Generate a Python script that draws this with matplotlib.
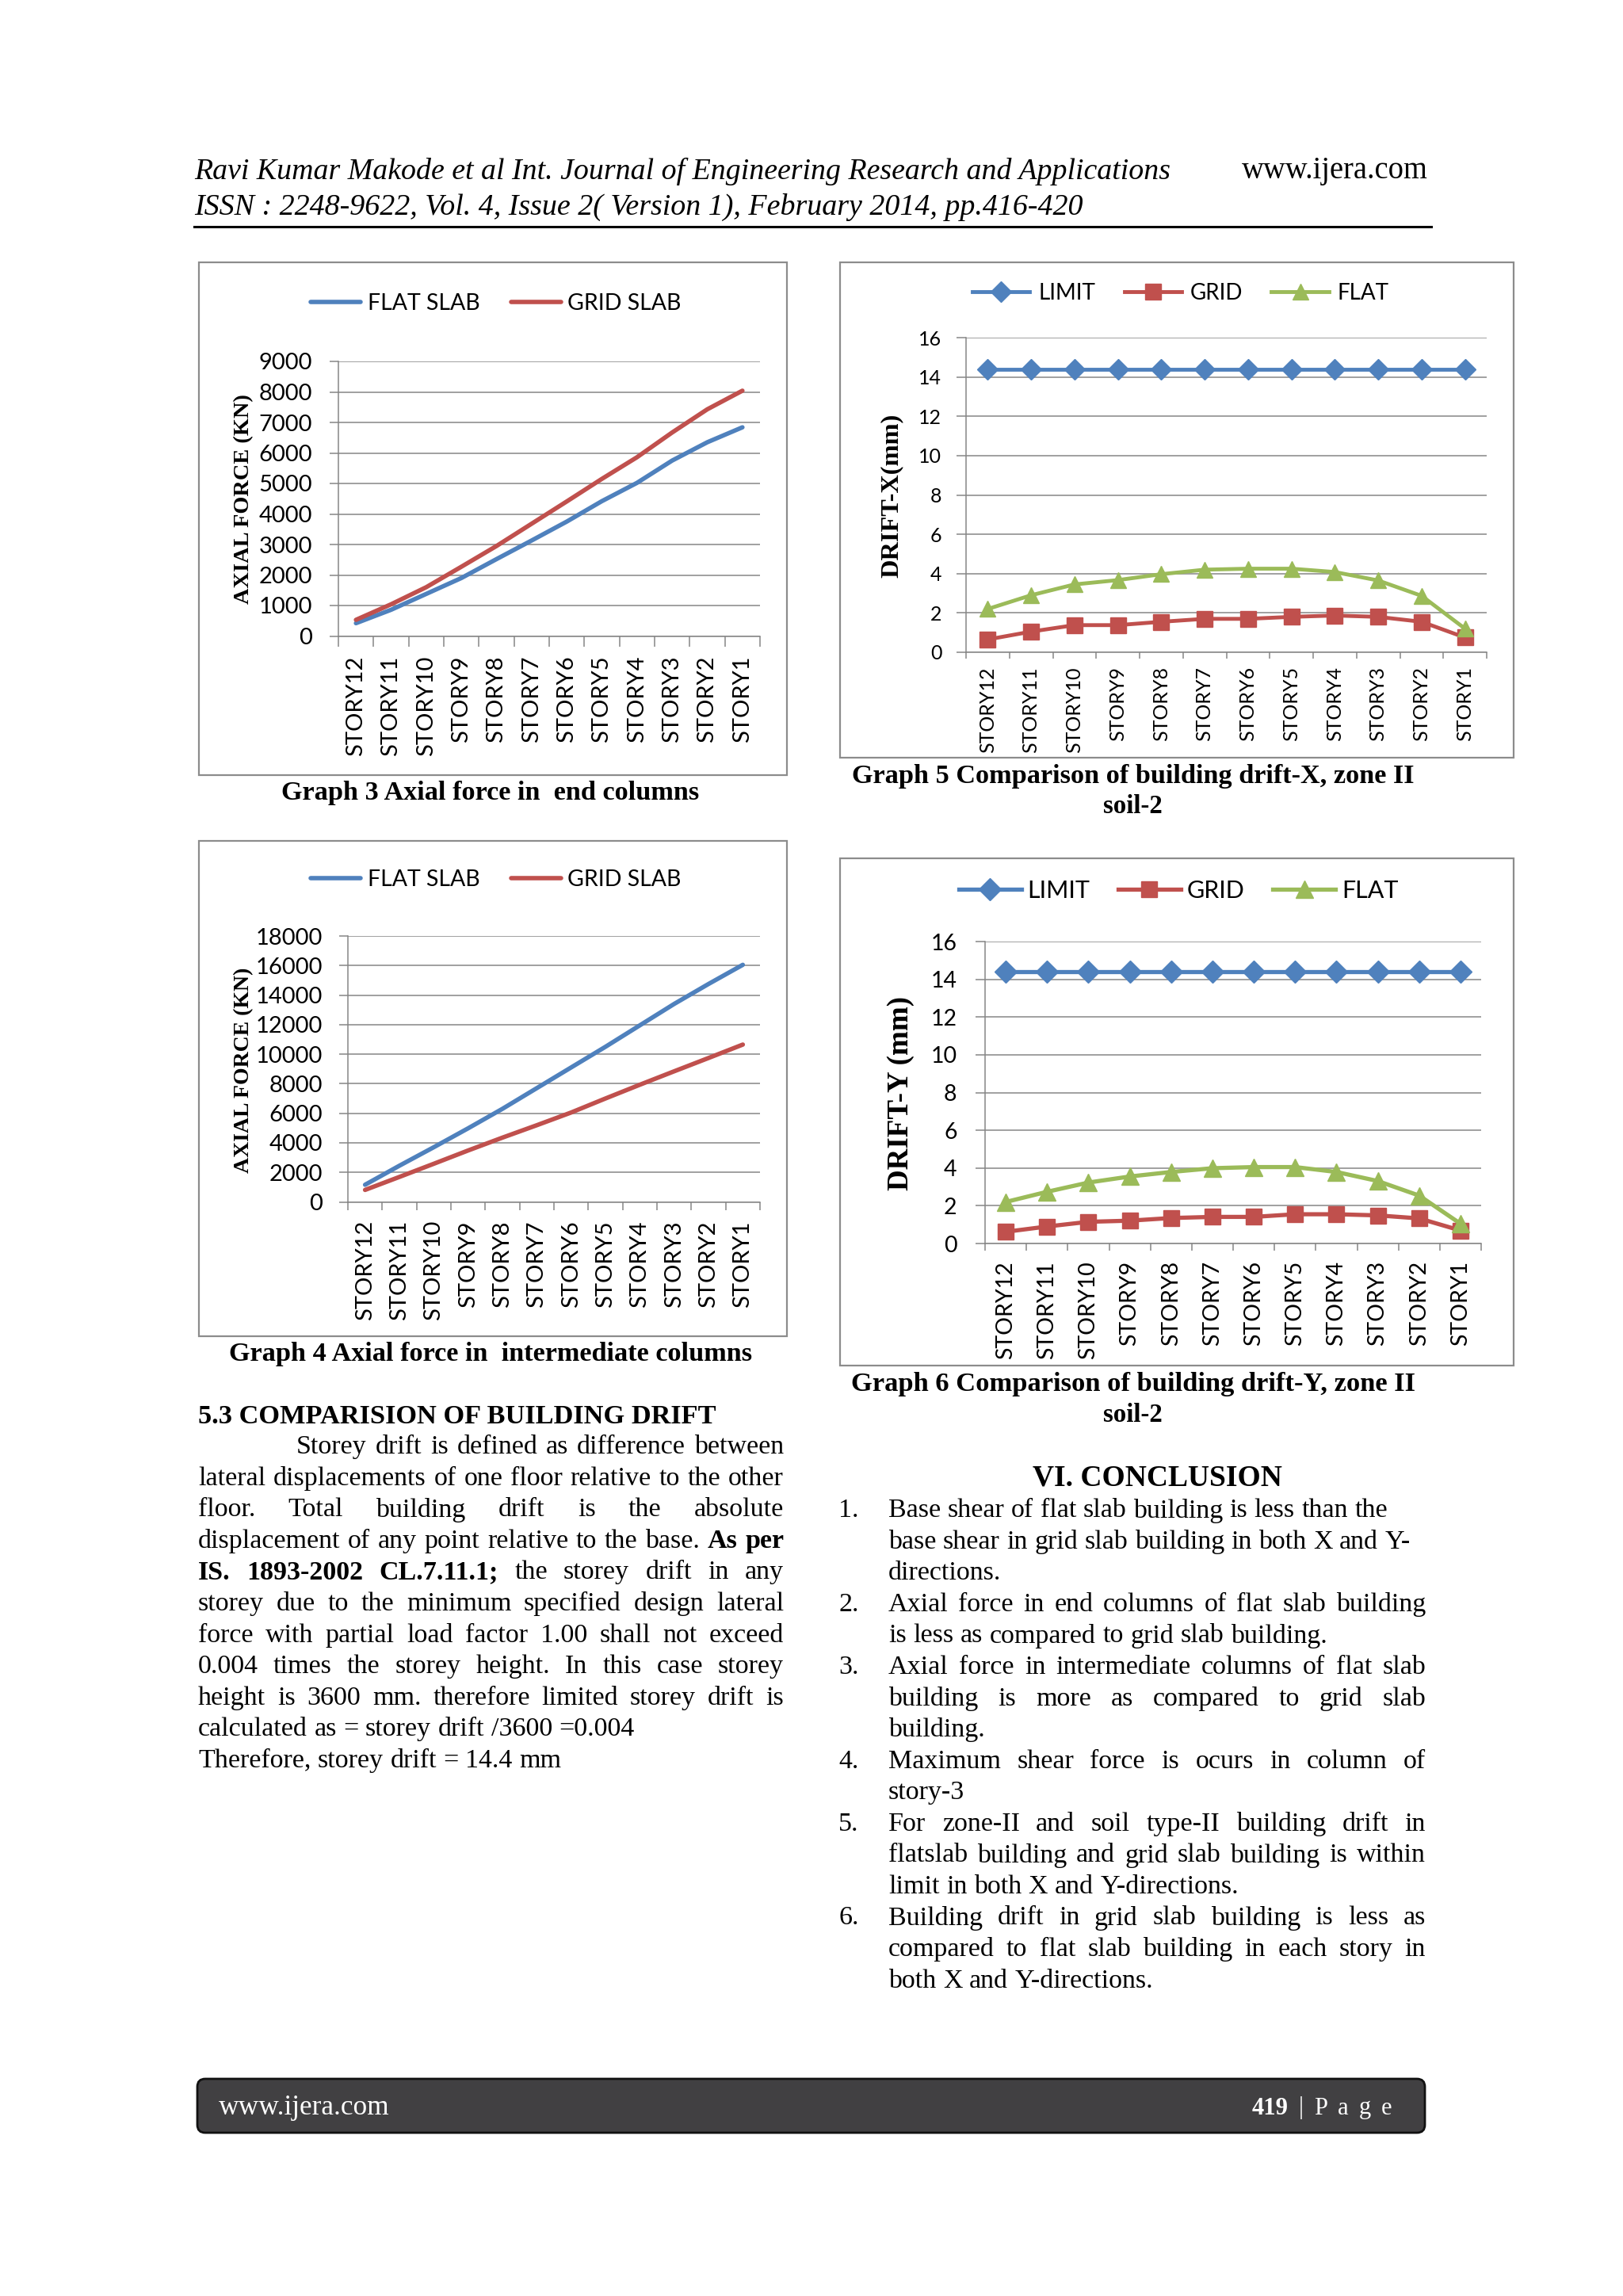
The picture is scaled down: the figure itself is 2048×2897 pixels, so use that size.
import matplotlib
matplotlib.use("Agg")
import matplotlib.pyplot as plt
from matplotlib.lines import Line2D
from matplotlib.patches import Rectangle, FancyBboxPatch
import numpy as np

W, H = 2048, 2897
SERIF = "Liberation Serif"
SANS = "Lato"
BLUE = "#4F81BD"
RED = "#C0504D"
GREEN = "#9BBB59"
GRID = "#868686"

stories = ["STORY12", "STORY11", "STORY10", "STORY9", "STORY8", "STORY7",
           "STORY6", "STORY5", "STORY4", "STORY3", "STORY2", "STORY1"]

# Graph 3: axial force in end columns (KN)
flat_end = [420, 860, 1380, 1900, 2520, 3130, 3750, 4420, 5020, 5750, 6350, 6840]
grid_end = [530, 1040, 1600, 2270, 2950, 3680, 4410, 5150, 5860, 6670, 7430, 8040]

# Graph 4: axial force in intermediate columns (KN)
flat_mid = [1160, 2450, 3700, 4980, 6300, 7700, 9100, 10500, 11950, 13400, 14750, 16050]
grid_mid = [810, 1690, 2580, 3480, 4350, 5190, 6050, 7000, 7930, 8840, 9740, 10650]

# Graph 5 / 6: drift (mm)
limit_drift = [14.4] * 12
grid_dx = [0.65, 1.05, 1.38, 1.38, 1.55, 1.7, 1.7, 1.8, 1.87, 1.8, 1.55, 0.75]
flat_dx = [2.2, 2.9, 3.45, 3.67, 3.97, 4.2, 4.25, 4.25, 4.08, 3.65, 2.87, 1.2]
grid_dy = [0.62, 0.9, 1.15, 1.21, 1.35, 1.41, 1.41, 1.55, 1.55, 1.49, 1.33, 0.69]
flat_dy = [2.2, 2.74, 3.23, 3.55, 3.79, 3.99, 4.05, 4.05, 3.79, 3.31, 2.54, 1.05]

header1 = "Ravi Kumar Makode et al Int. Journal of Engineering Research and Applications"
header2 = "ISSN : 2248-9622, Vol. 4, Issue 2( Version 1), February 2014, pp.416-420"

body_left = [
    ("Storey drift is defined as difference between", True),
    ("lateral displacements of one floor relative to the other", True),
    ("floor. Total building drift is the absolute", True),
    ("displacement of any point relative to the base. *As *per", True),
    ("*IS. *1893-2002 *CL.7.11.1; the storey drift in any", True),
    ("storey due to the minimum specified design lateral", True),
    ("force with partial load factor 1.00 shall not exceed", True),
    ("0.004 times the storey height. In this case storey", True),
    ("height is 3600 mm. therefore limited storey drift is", True),
    ("calculated as = storey drift /3600 =0.004", False),
    ("Therefore, storey drift = 14.4 mm", False),
]

conclusions = [
    [("Base shear of flat slab building is less than the", False),
     ("base shear in grid slab building in both X and Y-", False),
     ("directions.", False)],
    [("Axial force in end columns of flat slab building", True),
     ("is less as compared to grid slab building.", False)],
    [("Axial force in intermediate columns of flat slab", True),
     ("building is more as compared to grid slab", True),
     ("building.", False)],
    [("Maximum shear force is ocurs in column of", True),
     ("story-3", False)],
    [("For zone-II and soil type-II building drift in", True),
     ("flatslab building and grid slab building is within", True),
     ("limit in both X and Y-directions.", False)],
    [("Building drift in grid slab building is less as", True),
     ("compared to flat slab building in each story in", True),
     ("both X and Y-directions.", False)],
]

plt.rcParams["font.family"] = SANS
fig = plt.figure(figsize=(W / 100, H / 100), dpi=100)
fig.patch.set_facecolor("white")
renderer = fig.canvas.get_renderer()


def fx(x):
    return x / W


def fy(y):
    return 1 - y / H


def text(x, y, s, size, **kw):
    kw.setdefault("va", "center")
    return fig.text(fx(x), fy(y), s, fontsize=size, **kw)


def fit(x, y, s, length, **kw):
    """Draw text and scale its size so it spans `length` pixels."""
    t = text(x, y, s, 10, **kw)
    bb = t.get_window_extent(renderer)
    span = bb.height if kw.get("rotation", 0) == 90 else bb.width
    t.set_fontsize(10 * length / span)
    return t


def measure(s, size, **kw):
    t = fig.text(0, 0, s, fontsize=size, **kw)
    w = t.get_window_extent(renderer).width
    t.remove()
    return w


def line(x0, y, s, size, x1=None, color="black"):
    """Place words one by one; justify between x0 and x1 if given."""
    words = s.split()
    arts, widths = [], []
    for wd in words:
        bold = wd.startswith("*")
        t = text(0, y, wd.lstrip("*"), size, family=SERIF, color=color,
                 weight="bold" if bold else "normal", ha="left")
        arts.append(t)
        widths.append(t.get_window_extent(renderer).width)
    gap = size * 100 / 72 * 0.25
    if x1 is not None and len(words) > 1:
        gap = (x1 - x0 - sum(widths)) / (len(words) - 1)
    x = x0
    for t, w in zip(arts, widths):
        t.set_x(fx(x))
        x += w + gap


def box(x0, y0, x1, y1):
    fig.add_artist(Rectangle((fx(x0), fy(y1)), fx(x1) - fx(x0), fy(y0) - fy(y1),
                             transform=fig.transFigure, fill=False,
                             edgecolor="#8C8C8C", lw=1.6))


def setup_axes(x0, y0, x1, y1, ymax, ystep, fs, ylen, ypad, xlen, xpad):
    ax = fig.add_axes([fx(x0), fy(y1), fx(x1) - fx(x0), fy(y0) - fy(y1)])
    n = len(stories)
    ax.set_xlim(-0.5, n - 0.5)
    ax.set_ylim(0, ymax)
    ax.set_yticks(np.arange(0, ymax + ystep / 2, ystep))
    ax.set_xticks(np.arange(-0.5, n), [""] * (n + 1))
    ax.set_xticks(np.arange(n), stories, minor=True)
    ax.tick_params(axis="x", which="minor", length=0, pad=xpad, labelsize=fs,
                   labelrotation=90)
    ax.tick_params(axis="x", which="major", length=xlen, width=1.1, color=GRID)
    ax.tick_params(axis="y", length=ylen, width=1.1, color=GRID, pad=ypad,
                   labelsize=fs)
    ax.grid(axis="y", color=GRID, lw=1.1)
    ax.set_axisbelow(True)
    for s in ("top", "right"):
        ax.spines[s].set_visible(False)
    for s in ("left", "bottom"):
        ax.spines[s].set_color(GRID)
        ax.spines[s].set_linewidth(1.1)
    ax.patch.set_alpha(0)
    return ax


def legend(ax, cx, cy, fs, hl, tp, cs):
    ax.legend(loc="center", bbox_to_anchor=(fx(cx), fy(cy)),
              bbox_transform=fig.transFigure, ncol=3, frameon=False,
              fontsize=fs, handlelength=hl, handletextpad=tp,
              columnspacing=cs, borderpad=0)


x = np.arange(len(stories))

# ---- Graph 3 ----
box(251, 331, 993, 978)
ax3 = setup_axes(427, 456, 959, 802.5, 9000, 1000, 21, 8, 15.5, 9, 18)
ax3.plot(x, flat_end, color=BLUE, lw=4, label="FLAT SLAB", solid_capstyle="round")
ax3.plot(x, grid_end, color=RED, lw=4, label="GRID SLAB", solid_capstyle="round")
legend(ax3, 626, 383, 20.5, 2.2, 0.3, 1.4)
fit(308, 630, "AXIAL FORCE (KN)", 265, family=SERIF, weight="bold",
    rotation=90, ha="center")
fit(619, 1000, "Graph 3 Axial force in  end columns", 530, family=SERIF,
    weight="bold", ha="center")

# ---- Graph 4 ----
box(251, 1061, 993, 1686)
ax4 = setup_axes(439, 1181, 959, 1516.5, 18000, 2000, 21, 8, 15, 7.5, 17)
ax4.plot(x, flat_mid, color=BLUE, lw=4, label="FLAT SLAB", solid_capstyle="round")
ax4.plot(x, grid_mid, color=RED, lw=4, label="GRID SLAB", solid_capstyle="round")
legend(ax4, 626, 1110, 20.5, 2.2, 0.3, 1.4)
fit(308, 1350, "AXIAL FORCE (KN)", 258, family=SERIF, weight="bold",
    rotation=90, ha="center")
fit(619.5, 1709, "Graph 4 Axial force in  intermediate columns", 663,
    family=SERIF, weight="bold", ha="center")

# ---- Graph 5 ----
box(1060, 331, 1910, 956)
ax5 = setup_axes(1219, 426, 1876, 823, 16, 2, 18, 8.5, 13.5, 6, 13)
ax5.plot(x, limit_drift, color=BLUE, lw=3.5, marker="D", ms=13, label="LIMIT")
ax5.plot(x, grid_dx, color=RED, lw=3.5, marker="s", ms=14, label="GRID")
ax5.plot(x, flat_dx, color=GREEN, lw=3.5, marker="^", ms=15, label="FLAT")
legend(ax5, 1490, 370, 20, 2.6, 0.4, 1.3)
fit(1125, 625, "DRIFT-X(mm)", 207, family=SERIF, weight="bold",
    rotation=90, ha="center")
fit(1429.5, 980, "Graph 5 Comparison of building drift-X, zone II", 713,
    family=SERIF, weight="bold", ha="center")
fit(1429, 1018, "soil-2", 75, family=SERIF, weight="bold", ha="center")

# ---- Graph 6 ----
box(1060, 1083, 1910, 1723)
ax6 = setup_axes(1243, 1188, 1869, 1569, 16, 2, 20.5, 8.5, 17, 6.5, 16)
ax6.plot(x, limit_drift, color=BLUE, lw=3.8, marker="D", ms=14, label="LIMIT")
ax6.plot(x, grid_dy, color=RED, lw=3.8, marker="s", ms=15, label="GRID")
ax6.plot(x, flat_dy, color=GREEN, lw=3.8, marker="^", ms=16, label="FLAT")
legend(ax6, 1487, 1124, 22, 2.6, 0.25, 1.15)
fit(1136, 1379, "DRIFT-Y (mm)", 245, family=SERIF, weight="bold",
    rotation=90, ha="center")
fit(1429.5, 1746, "Graph 6 Comparison of building drift-Y, zone II", 713,
    family=SERIF, weight="bold", ha="center")
fit(1429, 1785, "soil-2", 75, family=SERIF, weight="bold", ha="center")

# ---- header ----
fit(245, 216, header1, 1235, family=SERIF, style="italic", ha="left")
fit(1567, 216, "www.ijera.com", 234, family=SERIF, ha="left")
fit(245, 261, header2, 1128, family=SERIF, style="italic", ha="left")
fig.add_artist(Line2D([fx(245), fx(1806)], [fy(286), fy(286)], color="black", lw=2.2))

# ---- body text ----
body_size = 10 * 461 / measure("Therefore, storey drift = 14.4 mm", 10, family=SERIF)
body_size = min(body_size, 10 * 730 / measure(body_left[1][0], 10, family=SERIF))
step = 39.55

fit(250, 1787, "5.3 COMPARISION OF BUILDING DRIFT", 653, family=SERIF,
    weight="bold", ha="left")
for i, (s, just) in enumerate(body_left):
    x0 = 374 if i == 0 else 250
    line(x0, 1826 + i * step, s, body_size, 989 if just else None)

fit(1303, 1865, "VI. CONCLUSION", 314, family=SERIF, weight="bold", ha="left")
row = 0
for k, item in enumerate(conclusions):
    text(1058, 1906 + row * step, f"{k + 1}.", body_size, family=SERIF, ha="left")
    for s, just in item:
        line(1121, 1906 + row * step, s, body_size, 1799 if just else None)
        row += 1

# ---- footer ----
fig.add_artist(FancyBboxPatch((2.49, (H - 2691) / 100), 15.49, 0.68,
                              boxstyle="round,pad=0,rounding_size=0.1",
                              transform=fig.dpi_scale_trans,
                              facecolor="#414042", edgecolor="#111111", lw=2))
fit(276, 2660, "www.ijera.com", 214, family=SERIF, color="white", ha="left")
line(1580, 2660, "*419 | P a g e", 22, 1756, color="white")

fig.savefig("out.png", dpi=100, facecolor="white")
